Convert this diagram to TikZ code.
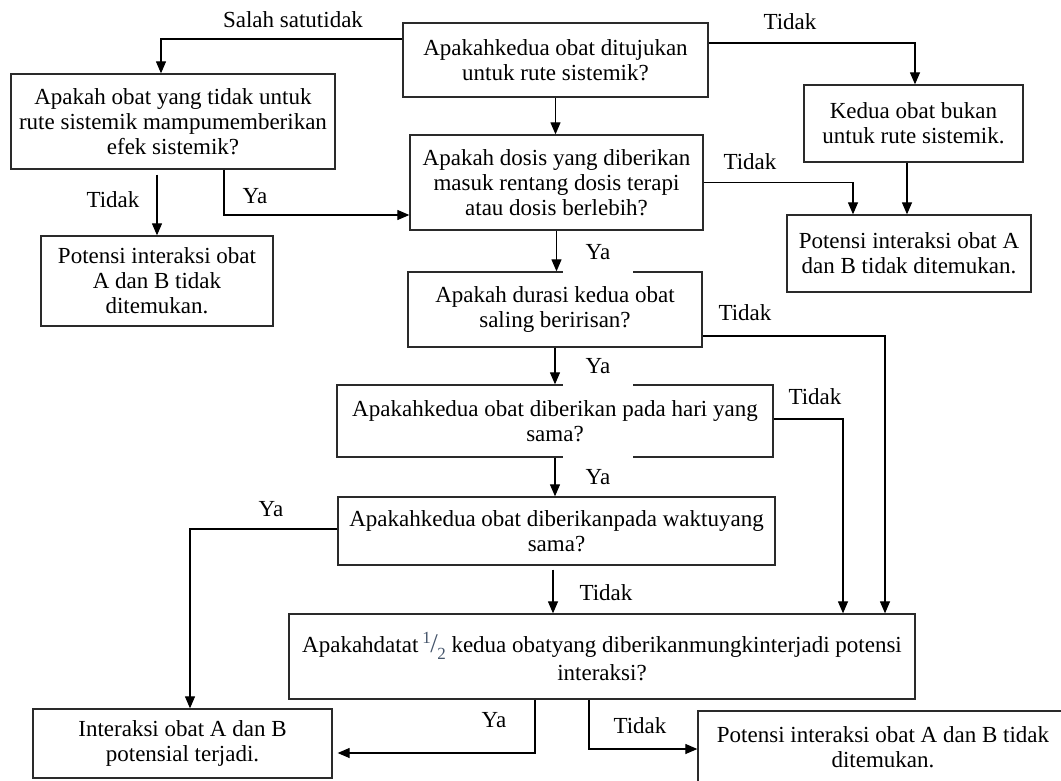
\documentclass[tikz,border=0pt]{standalone}
\usepackage{fontspec}
\setmainfont{Liberation Serif}
\usepackage{tikz}
\usetikzlibrary{arrows.meta,calc}
\definecolor{boxline}{HTML}{2A2A2A}
\definecolor{halfcol}{HTML}{44546A}

\begin{document}
\begin{tikzpicture}[x=1pt, y=-1pt, every node/.style={font=\fontsize{23}{25}\selectfont},
  blk/.style={draw=boxline, line width=1.3pt, align=center, inner sep=0pt},
  arr/.style={-{Triangle[length=12pt,width=10pt]}, line width=1.2pt},
  lbl/.style={inner sep=0pt},
  gaplbl/.style={fill=white, minimum width=70pt, inner sep=0pt, anchor=base}]
\useasboundingbox (0,0) rectangle (1061,780);
\node[blk, minimum width=305, minimum height=74] (q1) at (555.5,60) {Apakahkedua obat ditujukan\\untuk rute sistemik?};
\node[blk, minimum width=324, minimum height=95] (l1) at (173,121.5) {Apakah obat yang tidak untuk\\rute sistemik mampumemberikan\\efek sistemik?};
\node[blk, minimum width=219, minimum height=77] (r1) at (913.5,123.5) {Kedua obat bukan\\untuk rute sistemik.};
\node[blk, minimum width=293, minimum height=95] (q2) at (556.5,182.5) {Apakah dosis yang diberikan\\masuk rentang dosis terapi\\atau dosis berlebih?};
\node[blk, minimum width=232, minimum height=90] (l2) at (157,281) {Potensi interaksi obat\\A dan B tidak\\ditemukan.};
\node[blk, minimum width=244, minimum height=77] (r2) at (909,253.5) {Potensi interaksi obat A\\dan B tidak ditemukan.};
\node[blk, minimum width=294, minimum height=75] (q3) at (555,309.5) {Apakah durasi kedua obat\\saling beririsan?};
\node[blk, minimum width=436, minimum height=72] (q4) at (555,421) {Apakahkedua obat diberikan pada hari yang\\sama?};
\node[blk, minimum width=437, minimum height=68] (q5) at (556.5,531) {Apakahkedua obat diberikanpada waktuyang\\sama?};
\node[blk, minimum width=626, minimum height=85] (q6) at (602,656.5) {Apakahdatat\,{\color{halfcol}\raisebox{0.4em}{\fontsize{17}{17}\selectfont 1}\kern-0.5pt{\fontsize{27}{27}\selectfont/}\kern-0.5pt\raisebox{-0.3em}{\fontsize{17}{17}\selectfont 2}} kedua obatyang diberikanmungkinterjadi potensi\\[3pt]interaksi?};
\node[blk, minimum width=299, minimum height=69] (bl) at (182.5,743.5) {Interaksi obat A dan B\\potensial terjadi.};
\node[blk, minimum width=370, minimum height=72] (br) at (883,747) {Potensi interaksi obat A dan B tidak\\ditemukan.};
\node[gaplbl, text height=16, text depth=15] (y2) at (598,259.5) {Ya\hspace{14pt}};
\node[gaplbl, text height=16, text depth=13] (y3) at (598,373.5) {Ya\hspace{14pt}};
\node[gaplbl, text height=30, text depth=5] (y4) at (598,484.5) {Ya\hspace{14pt}};
\draw[arr] ([yshift=21]q1.west) -| ([xshift=-12]l1.north);
\node[lbl] (t1) at (293,20) {Salah satutidak};
\draw[arr] ([yshift=17]q1.east) -| ([xshift=1.5]r1.north);
\node[lbl] (t2) at (790,22) {Tidak};
\draw[arr] (q1.south) -- (q1.south |- q2.north);
\draw[arr] ($(l1.south -| l2.north)+(0,5)$) -- (l2.north);
\node[lbl] (t3) at (113,200) {Tidak};
\draw[arr] ([xshift=51]l1.south) |- ([yshift=-32.5]q2.west);
\node[lbl] (y1) at (255,196) {Ya};
\draw[arr] (q2.east) -| ([xshift=-56]r2.north);
\node[lbl] (t4) at (750,162) {Tidak};
\draw[arr] ($(r1.south -| r2.north)+(-2,0)$) -- ($(r2.north)+(-2,0)$);
\draw[arr] (q2.south) -- (q2.south |- q3.north);
\draw[arr] ([yshift=-26.5]q3.east) -| ([xshift=283]q6.north);
\node[lbl] (t5) at (745,313) {Tidak};
\draw[arr] (q3.south) -- (q3.south |- q4.north);
\draw[arr] ([yshift=2]q4.east) -| ([xshift=241]q6.north);
\node[lbl] (t6) at (815,397) {Tidak};
\draw[arr] (q4.south) -- (q4.south |- q5.north);
\draw[arr] ([yshift=2]q5.west) -| ([xshift=7.5]bl.north);
\node[lbl] (y5) at (271,509) {Ya};
\draw[arr] ($(q5.south)+(-3.5,4)$) -- ($(q5.south |- q6.north)+(-3.5,0)$);
\node[lbl] (t7) at (606,593) {Tidak};
\draw[arr] ([xshift=-67]q6.south) |- ($(bl.east)+(5,9.5)$);
\node[lbl] (y6) at (494,720) {Ya};
\draw[arr] ([xshift=-13]q6.south) |- ($(br.west)+(0,2)$);
\node[lbl] (t8) at (640,726) {Tidak};
\end{tikzpicture}
\end{document}
